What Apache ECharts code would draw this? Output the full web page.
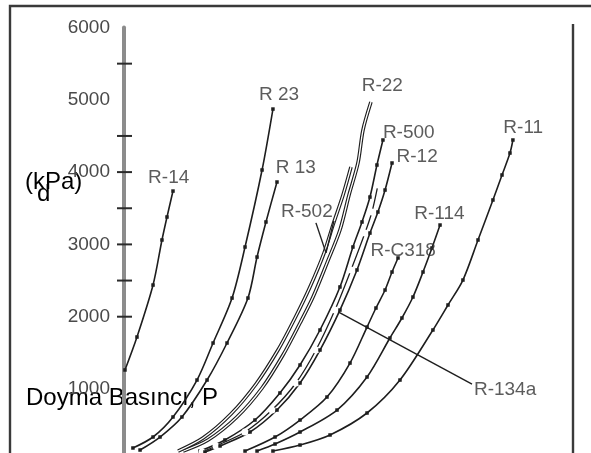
<!DOCTYPE html>
<html>
<head>
<meta charset="utf-8">
<script src="https://cdn.jsdelivr.net/npm/echarts@6/dist/echarts.min.js"></script>
<style>
  html, body { margin: 0; padding: 0; background: #fff; }
  #chart { width: 591px; height: 453px; }
</style>
</head>
<body>
<div id="chart"></div>
<script>
// Saturation pressure P (kPa) against temperature T (°C) for refrigerants.
// Each point is [T, P].
const r14   = [[-79.3,1263],[-70.7,1719],[-59.2,2438],[-52.8,3061],[-49.2,3379],[-44.9,3738]];
const r23   = [[-73.6,184],[-59.2,336],[-44.9,613],[-27.7,1124],[-16.2,1636],[-2.6,2258],[6.7,2964],[18.9,4029],[26.7,4872]];
const r13   = [[-68.5,156],[-54.2,336],[-38.5,613],[-20.5,1124],[-6.2,1636],[8.8,2258],[15.3,2825],[21.7,3310],[29.6,3863]];
const r22   = [[-37.7,142],[-19.8,295],[0.9,613],[18.9,1014],[33.9,1470],[46.1,1913],[55.4,2272],[65.4,2742],[74.7,3199],[81.2,3683],[87.6,4126],[91.2,4582],[96.9,4969]];
const r502  = [[-41.3,142],[-23.4,322],[-3.4,654],[14.6,1069],[30.3,1539],[42.5,1982],[53.2,2411],[63.3,2881],[69.7,3268],[76.9,3683],[82.6,4070]];
const r500  = [[-25.6,142],[-7.7,295],[13.8,571],[31.7,945],[46.1,1332],[60.4,1816],[74.7,2411],[84.0,2964],[90.5,3310],[96.2,3655],[101.2,4098],[105.5,4444]];
const r134a = [[-24.1,129],[-14.1,212],[6.7,405],[26.0,709],[43.2,1083],[57.5,1539],[71.1,2092],[82.6,2646],[92.6,3157],[97.6,3448],[101.9,3821]];
const r12   = [[-22.0,129],[-11.2,212],[10.3,405],[29.6,709],[46.1,1083],[60.4,1539],[74.7,2092],[86.9,2646],[96.2,3157],[101.9,3448],[107.0,3752],[112.0,4126]];
const rc318 = [[6.7,142],[28.2,336],[46.1,571],[65.4,889],[81.9,1359],[94.1,1857],[100.5,2120],[107.0,2369],[112.0,2618],[116.3,2812]];
const r114  = [[15.3,142],[28.2,239],[46.1,405],[72.6,709],[94.1,1166],[110.5,1705],[119.1,1982],[127.0,2272],[134.2,2618],[140.6,2950],[146.4,3268]];
const r11   = [[26.7,142],[46.1,225],[67.6,364],[94.1,668],[117.7,1124],[141.3,1816],[152.1,2162],[162.8,2507],[173.6,3061],[184.3,3614],[190.8,3960],[196.5,4264],[198.6,4444]];

// Curve names and where their tags sit, [name, T, P]
const curveLabels = [
  ['R-14', -48, 3920], ['R 23', 31, 5070], ['R 13', 43, 4060], ['R-22', 105, 5200],
  ['R-500', 124, 4550], ['R-12', 130, 4210], ['R-502', 51, 3450], ['R-C318', 120, 2910],
  ['R-114', 146, 3430], ['R-11', 206, 4620], ['R-134a', 193, 990]
];

// Leader lines pointing from tags to curves, [T, P]
const leader134a = [[71.1, 2092], [169.3, 1069]];
const leader502a = [[57.5, 3298], [64.7, 2883]];
const leader502b = [[70.4, 3326], [64.7, 2883]];

// Pressure axis
const pMin = 0, pMax = 6000, pStep = 500;
const pLabelStep = 1000;
const tickMarks = [2000, 2500, 3000, 3500, 4000, 4500, 5500];
const tMin = -80, tMax = 240;

const curves = [
  { data: r14,   look: 'plain' },
  { data: r23,   look: 'plain' },
  { data: r13,   look: 'plain' },
  { data: r22,   look: 'double' },
  { data: r502,  look: 'double' },
  { data: r500,  look: 'plain' },
  { data: r134a, look: 'hollow' },
  { data: r12,   look: 'plain' },
  { data: rc318, look: 'plain' },
  { data: r114,  look: 'plain' },
  { data: r11,   look: 'plain' }
];

const ink = '#1e1e1e';
const series = [];
curves.forEach(c => {
  if (c.look === 'double') {
    series.push({ type: 'line', data: c.data, smooth: 0.3, symbol: 'none', silent: true,
      lineStyle: { color: ink, width: 3.6 } });
    series.push({ type: 'line', data: c.data, smooth: 0.3, symbol: 'none', silent: true,
      lineStyle: { color: '#ffffff', width: 1.3 } });
  } else if (c.look === 'hollow') {
    series.push({ type: 'line', data: c.data, smooth: 0.3, symbol: 'emptyCircle', symbolSize: 5,
      silent: true, itemStyle: { color: '#fff', borderColor: ink, borderWidth: 1.2 },
      lineStyle: { color: ink, width: 1.3 } });
  } else {
    series.push({ type: 'line', data: c.data, smooth: 0.3, symbol: 'rect', symbolSize: 3.5,
      silent: true, itemStyle: { color: ink }, lineStyle: { color: ink, width: 1.6 } });
  }
});

[leader134a, leader502a, leader502b].forEach(l => {
  series.push({ type: 'line', data: l, symbol: 'none', silent: true,
    lineStyle: { color: ink, width: 1.4 } });
});

// crossing tick marks on the pressure axis
series.push({
  type: 'custom', silent: true, clip: false,
  data: tickMarks.map(v => [tMin, v]),
  encode: { x: 0, y: 1 },
  renderItem: (params, api) => {
    const p = api.coord([api.value(0), api.value(1)]);
    return { type: 'line', shape: { x1: p[0] - 7, y1: p[1], x2: p[0] + 8, y2: p[1] },
      style: { stroke: '#2b2b2b', lineWidth: 2 } };
  }
});

// curve tags
series.push({
  type: 'scatter', silent: true, symbolSize: 1, itemStyle: { color: 'rgba(0,0,0,0)' },
  data: curveLabels.map(l => ({ name: l[0], value: [l[1], l[2]] })),
  label: { show: true, position: 'inside', formatter: p => p.name,
    fontFamily: 'Liberation Sans', fontSize: 19, color: '#333' },
  z: 5
});

const chart = echarts.init(document.getElementById('chart'), null, { renderer: 'canvas' });
chart.setOption({
  animation: false,
  backgroundColor: '#fff',
  grid: { left: 124, top: 27.5, width: 446.7, height: 433.8, outerBoundsMode: 'none', containLabel: false },
  xAxis: { type: 'value', min: tMin, max: tMax, show: false },
  yAxis: {
    type: 'value', min: pMin, max: pMax, interval: pStep,
    axisLine: { show: true, onZero: false, lineStyle: { color: '#8c8c8c', width: 4 } },
    axisTick: { show: false },
    splitLine: { show: false },
    axisLabel: {
      margin: 14, fontFamily: 'Liberation Sans', fontSize: 19, color: '#4a4a4a',
      formatter: v => (v > 0 && v % pLabelStep === 0) ? String(v) : ''
    }
  },
  series: series,
  graphic: [
    { type: 'polyline', silent: true, shape: { points: [[10, 453], [10, 6], [591, 6]] },
      style: { stroke: '#3a3a3a', lineWidth: 2.4, fill: null } },
    { type: 'line', silent: true, shape: { x1: 573, y1: 24, x2: 573, y2: 453 },
      style: { stroke: '#3a3a3a', lineWidth: 2.4 } },
    { type: 'text', silent: true, left: 25, top: 170,
      style: { text: '(kPa)', font: '24px "Liberation Sans"', fill: '#000' } },
    { type: 'text', silent: true, left: 37, top: 182,
      style: { text: 'd', font: '24px "Liberation Sans"', fill: '#000' } },
    { type: 'text', silent: true, left: 26, top: 386,
      style: { text: 'Doyma Basıncı, P', font: '24px "Liberation Sans"', fill: '#000' } }
  ]
});
</script>
</body>
</html>
